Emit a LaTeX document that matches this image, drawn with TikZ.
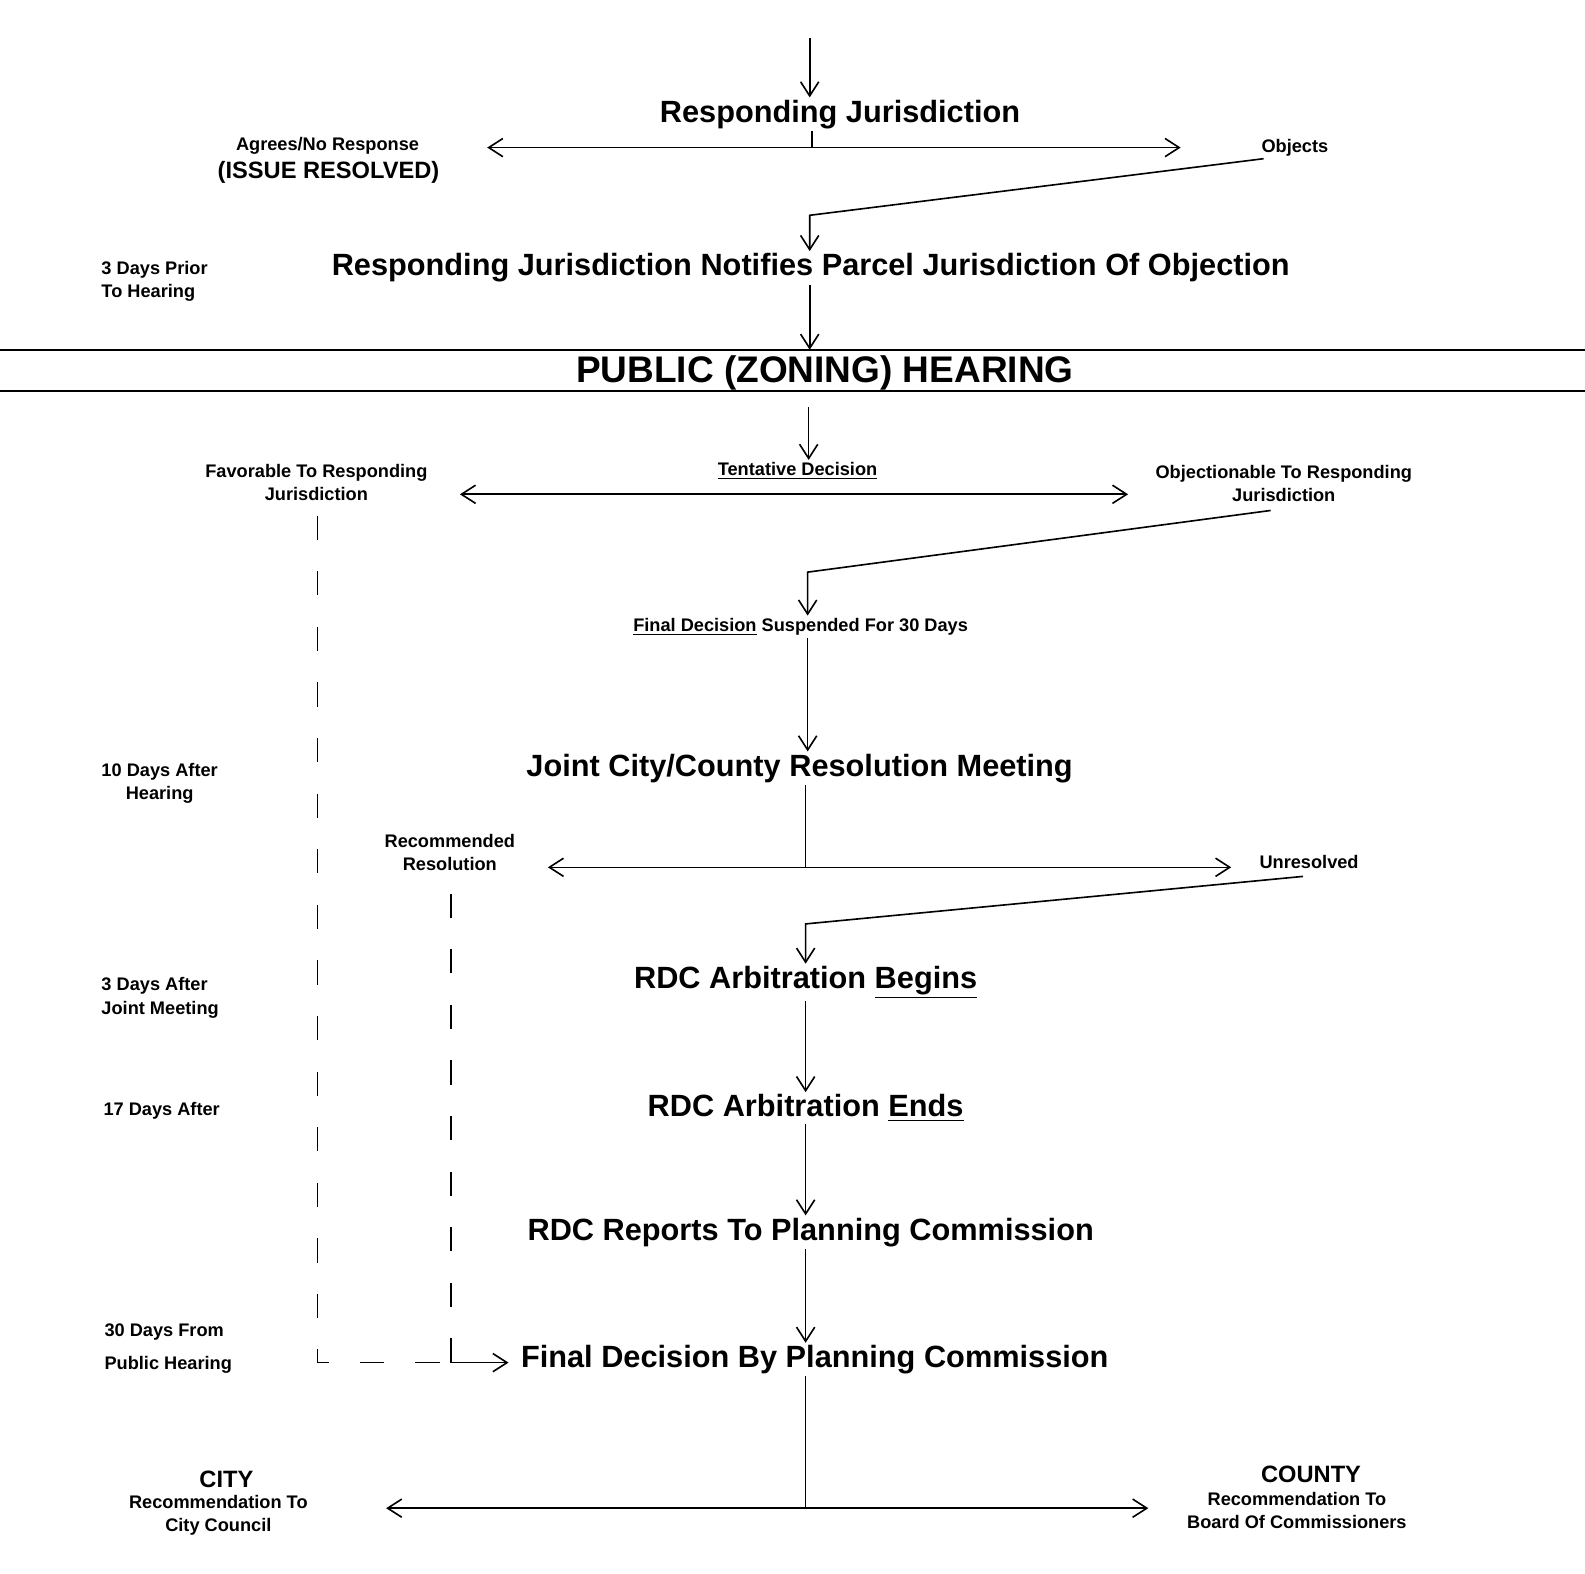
\documentclass[tikz,border=0pt]{standalone}
\usepackage{fontspec}
\setmainfont{Liberation Sans}
\usetikzlibrary{arrows.meta, positioning, calc}

\begin{document}
\begin{tikzpicture}[
    x=0.5pt, y=-0.5pt,
    >={Straight Barb[length=7pt,width=9pt]}, % open arrow tips
    big/.style={font=\bfseries\fontsize{15.2}{18}\selectfont, inner sep=1pt},
    heading/.style={font=\bfseries\fontsize{18.3}{22}\selectfont, inner sep=1pt},
    mid/.style={font=\bfseries\fontsize{11.7}{14}\selectfont, inner sep=1pt},
    small/.style={font=\bfseries\fontsize{9}{11.5}\selectfont, inner sep=1pt, align=center},
    side/.style={small, align=left, anchor=west},
    flow/.style={line width=0.8pt},
    guide/.style={line width=0.8pt, dash pattern=on 12pt off 15.5pt}
]
\useasboundingbox (0,0) rectangle (1568,1557);

% Spine and junctions
\coordinate (spine) at (799,0);
\coordinate (top) at (801,38);
\coordinate (rjsplit) at (803,146);
\coordinate (rjL) at (482,146);
\coordinate (rjR) at (1168,146);
\coordinate (objStart) at (1250,157);
\coordinate (objBend) at (801,213);
\coordinate (hearTopL) at (0,346);
\coordinate (hearTopR) at (1568,346);
\coordinate (hearBotL) at (0,387);
\coordinate (hearBotR) at (1568,387);
\coordinate (tdStart) at (800,403);
\coordinate (tdL) at (455,489);
\coordinate (tdR) at (1116,489);
\coordinate (objnStart) at (1257,505);
\coordinate (objnBend) at (799,566);
\coordinate (jmsplit) at (797,858);
\coordinate (jmL) at (542,858);
\coordinate (jmR) at (1218,858);
\coordinate (unrStart) at (1289,867);
\coordinate (unrBend) at (797,914);
\coordinate (fdsplit) at (797,1492);
\coordinate (fdL) at (382,1492);
\coordinate (fdR) at (1136,1492);
\coordinate (favDash) at (314,510);
\coordinate (recDash) at (446,873);
\coordinate (dashCorner) at (314,1348);
\coordinate (recCorner) at (446,1348);

% Main steps
\node[big] (resp) at (831,113) {Responding Jurisdiction};
\node[small] (agrees) at (324,144) {Agrees/No Response};
\node[mid] (resolved) at (325,171) {(ISSUE RESOLVED)};
\node[small] (objects) at (1281,146) {Objects};
\node[big] (notify) at (802,265) {Responding Jurisdiction Notifies Parcel Jurisdiction Of Objection};
\node[heading] (hearing) at (816,369) {PUBLIC (ZONING) HEARING};
\node[small] (tentative) at (789,466) {\underline{Tentative Decision}};
\node[small] (favorable) at (313,477) {Favorable To Responding\\Jurisdiction};
\node[small] (objectionable) at (1270,478) {Objectionable To Responding\\Jurisdiction};
\node[small] (suspended) at (792,620) {\underline{Final Decision} Suspended For 30 Days};
\node[big] (joint) at (791,760) {Joint City/County Resolution Meeting};
\node[small] (recommended) at (445,843) {Recommended\\Resolution};
\node[small] (unresolved) at (1295,853) {Unresolved};
\node[big] (begins) at (797,972) {RDC Arbitration \underline{Begins}};
\node[big] (ends) at (797,1096) {RDC Arbitration \underline{Ends}};
\node[big] (reports) at (802,1219) {RDC Reports To Planning Commission};
\node[big] (final) at (806,1345) {Final Decision By Planning Commission};
\node[mid] (city) at (224,1463) {CITY};
\node[small] (citytxt) at (216,1499) {Recommendation To\\City Council};
\node[mid] (county) at (1297,1459) {COUNTY};
\node[small] (countytxt) at (1283,1494) {Recommendation To\\Board Of Commissioners};

% Timeline on the left
\node[side] (prior3) at (98,278) {3 Days Prior\\To Hearing};
\node[small, anchor=west] (after10) at (98,775) {10 Days After\\Hearing};
\node[side] (after3) at (98,987) {3 Days After\\Joint Meeting};
\node[side] (after17) at (100,1099) {17 Days After};
\node[side, font=\bfseries\fontsize{9}{16.5}\selectfont] (from30) at (101,1334) {30 Days From\\Public Hearing};

% Connectors
\draw[flow,->] (top) -- (top |- resp.north);
\draw[flow] (resp.south -| rjsplit) -- (rjsplit);
\draw[flow,<->] (rjL) -- (rjR);
\draw[flow,->] (objStart) -- (objBend) -- (objBend |- notify.north);
\draw[flow,->] (notify.south -| top) -- (hearTopL -| top);
\draw[line width=1.2pt] (hearTopL) -- (hearTopR);
\draw[line width=1.2pt] (hearBotL) -- (hearBotR);
\draw[flow,->] (tdStart) -- (tdStart |- tentative.north);
\draw[flow,<->] (tdL) -- (tdR);
\draw[flow,->] (objnStart) -- (objnBend) -- (objnBend |- suspended.north);
\draw[flow,->] (suspended.south -| spine) -- (joint.north -| spine);
\draw[flow] (joint.south -| jmsplit) -- (jmsplit);
\draw[flow,<->] (jmL) -- (jmR);
\draw[flow,->] (unrStart) -- (unrBend) -- (unrBend |- begins.north);
\draw[flow,->] (begins.south -| unrBend) -- (ends.north -| unrBend);
\draw[flow,->] (ends.south -| unrBend) -- (reports.north -| unrBend);
\draw[flow,->] (reports.south -| unrBend) -- (final.north -| unrBend);
\draw[flow] (final.south -| fdsplit) -- (fdsplit);
\draw[flow,<->] (fdL) -- (fdR);

% Dashed routes to the final decision
\draw[guide] (favDash) -- (dashCorner) -- (recCorner);
\draw[guide] (recCorner) -- (recDash);
\draw[flow,->, shorten >=5pt] (recCorner) -- (recCorner -| final.west);

\end{tikzpicture}
\end{document}
